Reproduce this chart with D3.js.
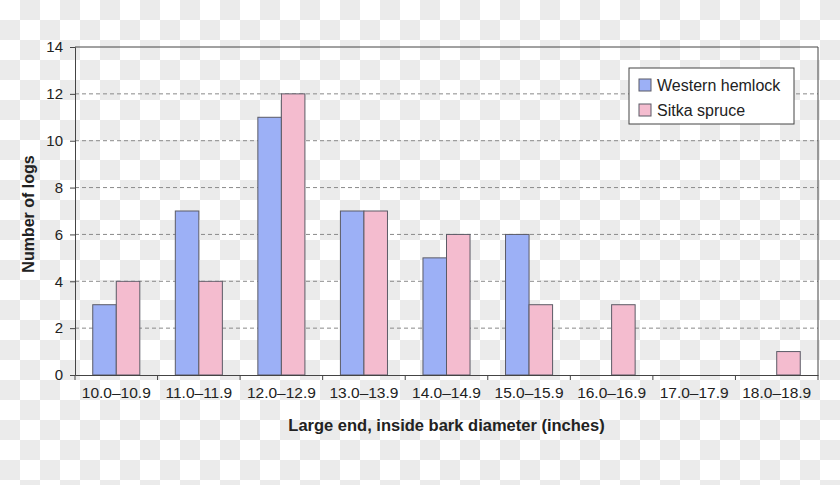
<!DOCTYPE html>
<html>
<head>
<meta charset="utf-8">
<script src="https://cdn.jsdelivr.net/npm/d3@7"></script>
<style>
  body { margin: 0; background: #fff; }
  svg text { font-family: "Liberation Sans", Arial, sans-serif; fill: #222; }
</style>
</head>
<body>
<svg class="chart" width="840" height="485"></svg>
<script>
// diameter classes and counts
let diameterClasses = ["10.0\u201310.9", "11.0\u201311.9", "12.0\u201312.9", "13.0\u201313.9",
  "14.0\u201314.9", "15.0\u201315.9", "16.0\u201316.9", "17.0\u201317.9", "18.0\u201318.9"];
let hemlockCounts = [3, 7, 11, 7, 5, 6, 0, 0, 0];
let spruceCounts = [4, 4, 12, 7, 6, 3, 3, 0, 1];
let seriesNames = ["Western hemlock", "Sitka spruce"];
let yTicks = [0, 2, 4, 6, 8, 10, 12, 14];

let svg = d3.select(".chart");

// checkered backdrop like the source image
let pattern = svg.append("defs").append("pattern")
  .attr("id", "checker").attr("width", 40).attr("height", 40)
  .attr("patternUnits", "userSpaceOnUse");
pattern.append("rect").attr("width", 40).attr("height", 40).attr("fill", "#ffffff");
pattern.append("rect").attr("x", 20).attr("width", 20).attr("height", 20).attr("fill", "#ebebeb");
pattern.append("rect").attr("y", 20).attr("width", 20).attr("height", 20).attr("fill", "#ebebeb");
svg.append("rect").attr("width", 840).attr("height", 485).attr("fill", "url(#checker)");

let margin = {top: 47, right: 22, bottom: 110, left: 75};
let plotWidth = 840 - margin.left - margin.right;
let plotHeight = 485 - margin.top - margin.bottom;

let plot = svg.append("g").attr("transform", translate(margin.left, margin.top));

let x = d3.scaleBand().domain(diameterClasses).range([0, plotWidth]);
let inner = d3.scaleBand().domain(seriesNames)
  .range([x.bandwidth() * 0.215, x.bandwidth() * 0.785]);
let y = d3.scaleLinear().domain([0, 14]).range([plotHeight, 0]);
let color = d3.scaleOrdinal().domain(seriesNames).range(["#9cb0f6", "#f4bccf"]);

// dashed gridlines
plot.append("g").selectAll("line")
  .data(yTicks.filter(d => d > 0 && d < 14))
  .enter().append("line")
  .attr("x1", 0).attr("x2", plotWidth)
  .attr("y1", d => y(d)).attr("y2", d => y(d))
  .attr("stroke", "#8a8a8a").attr("stroke-dasharray", "4,3");

// bars
let rows = diameterClasses.map((c, i) => ({cls: c, values: [hemlockCounts[i], spruceCounts[i]]}));
let groups = plot.selectAll(".grp").data(rows).enter().append("g")
  .attr("class", "grp")
  .attr("transform", d => translate(x(d.cls), 0));
groups.selectAll("rect")
  .data(d => d.values.map((v, j) => ({name: seriesNames[j], value: v})).filter(d => d.value > 0))
  .enter().append("rect")
  .attr("x", d => inner(d.name))
  .attr("width", inner.bandwidth())
  .attr("y", d => y(d.value))
  .attr("height", d => plotHeight - y(d.value))
  .attr("fill", d => color(d.name))
  .attr("stroke", "#5b5b66").attr("stroke-width", 1);

// frame top and right
plot.append("line").attr("x1", 0).attr("x2", plotWidth).attr("y1", 0).attr("y2", 0)
  .attr("stroke", "#444");
plot.append("line").attr("x1", plotWidth).attr("x2", plotWidth).attr("y1", 0).attr("y2", plotHeight)
  .attr("stroke", "#444");

// axes
let yAxis = d3.axisLeft(y).tickValues(yTicks).tickSize(5).tickPadding(7).tickFormat(d3.format("d"));
let yGroup = plot.append("g").call(yAxis);
yGroup.select(".domain").attr("stroke", "#444");
yGroup.selectAll(".tick line").attr("stroke", "#444");
yGroup.selectAll("text").style("font-size", "15px").attr("fill", "#222");

let xAxis = d3.axisBottom(x).tickSize(0).tickPadding(12);
let xGroup = plot.append("g").attr("transform", translate(0, plotHeight)).call(xAxis);
xGroup.select(".domain").attr("stroke", "#444");
xGroup.selectAll("text").style("font-size", "15.5px").attr("fill", "#222");
// boundary ticks between classes
xGroup.selectAll(".sep")
  .data(d3.range(diameterClasses.length + 1))
  .enter().append("line")
  .attr("x1", i => i * x.step()).attr("x2", i => i * x.step())
  .attr("y1", 0).attr("y2", 5)
  .attr("stroke", "#444");

// axis labels
svg.append("text")
  .attr("transform", translate(margin.left + plotWidth / 2, 431))
  .style("text-anchor", "middle").style("font-size", "16.5px").style("font-weight", "bold")
  .text("Large end, inside bark diameter (inches)");
svg.append("text")
  .attr("transform", translate(34, margin.top + plotHeight / 2 + 3) + " rotate(-90)")
  .style("text-anchor", "middle").style("font-size", "16px").style("font-weight", "bold")
  .text("Number of logs");

// legend
let legend = svg.append("g").attr("transform", translate(629, 68));
legend.append("rect").attr("width", 165).attr("height", 56)
  .attr("fill", "#fff").attr("stroke", "#444");
let items = legend.selectAll(".item").data(seriesNames).enter().append("g")
  .attr("transform", (d, i) => translate(10, 11 + i * 25));
items.append("rect").attr("width", 12).attr("height", 12)
  .attr("fill", d => color(d)).attr("stroke", "#5b5b66");
items.append("text").attr("x", 18).attr("y", 11.5)
  .style("font-size", "16px").text(d => d);

function translate(x, y) {
  return "translate(" + x + "," + y + ")";
}
</script>
</body>
</html>
